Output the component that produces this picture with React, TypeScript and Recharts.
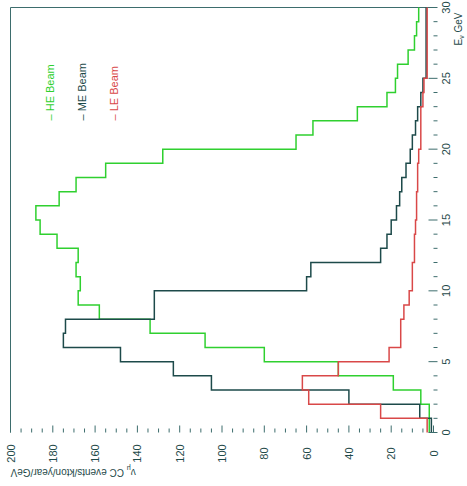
import React from 'react';
import { LineChart, Line, XAxis, YAxis, ReferenceLine } from 'recharts';

// Energy bin edges (GeV), 1 GeV bins from 0 to 30
const energyEdges = [0, 1, 2, 3, 4, 5, 6, 7, 8, 9, 10, 11, 12, 13, 14, 15, 16, 17, 18, 19, 20, 21, 22, 23, 24, 25, 26, 27, 28, 29, 30];

// nu_mu CC events / kton / year / GeV per 1 GeV bin (bin i = [i, i+1])
const heBeam = [2, 2, 6, 19, 45, 80, 108, 134, 158, 168, 167, 169, 168, 178, 186, 188, 177, 169, 155, 128, 65, 57, 36, 22, 18, 17, 12, 9, 8, 7];
const meBeam = [1, 6.5, 40, 105, 123, 148, 175, 174, 132, 132, 60, 58, 25, 22, 20, 17.5, 16, 15, 13, 11, 10, 8.5, 7.5, 6, 5, 3.5, 3.5, 3.5, 3.5, 3.5];
const leBeam = [3, 25, 59, 62, 45, 21, 15.5, 15.5, 14, 11.5, 10, 10, 9, 9, 8.5, 8, 8, 7.5, 7.5, 7, 6, 6, 6, 5, 4.5, 3, 3, 3, 3, 3];

const energyTicks = [0, 1, 2, 3, 4, 5, 6, 7, 8, 9, 10, 11, 12, 13, 14, 15, 16, 17, 18, 19, 20, 21, 22, 23, 24, 25, 26, 27, 28, 29, 30];
const eventTicks = [0, 5, 10, 15, 20, 25, 30, 35, 40, 45, 50, 55, 60, 65, 70, 75, 80, 85, 90, 95, 100, 105, 110, 115, 120, 125, 130, 135, 140, 145, 150, 155, 160, 165, 170, 175, 180, 185, 190, 195, 200];

const seriesNames = ['HE Beam', 'ME Beam', 'LE Beam'];

const GREEN = '#2fd02f';
const DARK = '#1d4a4a';
const RED = '#d94848';
const AXIS = '#3d6d6d';
const TEXT = '#1f4a4a';
const FONT = '"Liberation Sans", Arial, sans-serif';

const data = energyEdges.map((e, i) => {
  const k = Math.min(i, heBeam.length - 1);
  return { e, he: heBeam[k], me: meBeam[k], le: leBeam[k] };
});

const ETick = (props: any) => {
  const { x, y, payload } = props;
  const v = payload.value as number;
  const major = v % 5 === 0;
  return (
    <g>
      <line x1={x} x2={x} y1={major ? y - 5 : y} y2={y + 4} stroke={AXIS} strokeWidth={1} />
      {major && (
        <text x={x} y={y + 16} textAnchor="middle" fontSize={11} fill={TEXT} fontFamily={FONT}>
          {v}
        </text>
      )}
    </g>
  );
};

const NTick = (props: any) => {
  const { x, y, payload } = props;
  const v = payload.value as number;
  const major = v % 20 === 0;
  return (
    <g>
      <line x1={x} x2={x + (major ? 7 : 4)} y1={y} y2={y} stroke={AXIS} strokeWidth={1} />
      {major && (
        <text x={x - 21} y={y + 4} textAnchor="middle" fontSize={11} fill={TEXT} fontFamily={FONT}>
          {v}
        </text>
      )}
    </g>
  );
};

const XTitle = (props: any) => {
  const vb = props.viewBox;
  return (
    <text x={vb.x + vb.width - 5} y={vb.y + 28} textAnchor="end" fontSize={10} fill={TEXT} fontFamily={FONT}>
      <tspan>E</tspan>
      <tspan fontSize={7} dy={2}>ν</tspan>
      <tspan dy={-2}> GeV</tspan>
    </text>
  );
};

const YTitle = (props: any) => {
  const vb = props.viewBox;
  const x = 18;
  const y = vb.y;
  return (
    <text x={x} y={y} transform={`rotate(-90, ${x}, ${y})`} textAnchor="end" fontSize={10} fill={TEXT} fontFamily={FONT}>
      <tspan>ν</tspan>
      <tspan fontSize={7} dy={3}>μ</tspan>
      <tspan dy={-3}> CC events/kton/year/GeV</tspan>
    </text>
  );
};

export default function App() {
  const colors = [GREEN, DARK, RED];
  return (
    <div style={{ position: 'fixed', left: 0, top: 0, width: 467, height: 486, background: '#fff', overflow: 'hidden' }}>
      <div
        style={{
          position: 'absolute',
          width: 486,
          height: 467,
          left: -9.5,
          top: 9.5,
          transform: 'rotate(-90deg)',
          transformOrigin: 'center',
        }}
      >
        <LineChart width={486} height={467} data={data} margin={{ top: 10, right: 7, left: 0, bottom: 0 }}>
          <XAxis
            dataKey="e"
            type="number"
            domain={[0, 30]}
            ticks={energyTicks}
            interval={0}
            axisLine={false}
            tickLine={false}
            tickSize={0}
            tickMargin={0}
            height={34}
            tick={<ETick />}
            label={{ content: <XTitle /> } as any}
          />
          <YAxis
            type="number"
            domain={[0, 200]}
            ticks={eventTicks}
            interval={0}
            axisLine={false}
            tickLine={false}
            tickSize={0}
            tickMargin={0}
            width={54}
            tick={<NTick />}
            label={{ content: <YTitle /> } as any}
          />
          <ReferenceLine x={30} stroke={AXIS} strokeWidth={1} />
          <ReferenceLine y={200} stroke={AXIS} strokeWidth={1} />
          <Line dataKey="he" type="stepAfter" stroke={GREEN} strokeWidth={1.5} dot={false} isAnimationActive={false} />
          <Line dataKey="me" type="stepAfter" stroke={DARK} strokeWidth={1.5} dot={false} isAnimationActive={false} />
          <Line dataKey="le" type="stepAfter" stroke={RED} strokeWidth={1.5} dot={false} isAnimationActive={false} />
        </LineChart>
        <div
          style={{
            position: 'absolute',
            left: 366,
            top: 33,
            fontFamily: FONT,
            fontSize: 11,
            lineHeight: '32px',
            whiteSpace: 'nowrap',
          }}
        >
          {seriesNames.map((n, i) => (
            <div key={n} style={{ color: colors[i] }}>
              – {n}
            </div>
          ))}
        </div>
      </div>
    </div>
  );
}
